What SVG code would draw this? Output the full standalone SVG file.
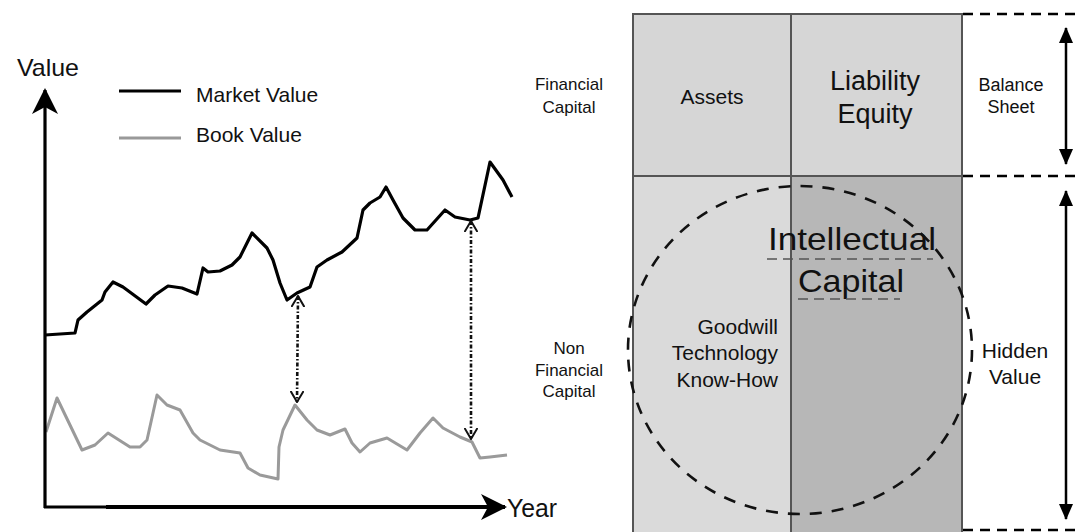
<svg xmlns="http://www.w3.org/2000/svg" width="1083" height="532" viewBox="0 0 1083 532">
<style>
text{font-family:"Liberation Sans",Arial,sans-serif;fill:#111}
.lbl{font-size:17px;text-anchor:middle}
.cell{stroke:#555;stroke-width:2}
.hd{stroke:#000;stroke-width:2.5;stroke-dasharray:10 7;fill:none}
.ul{stroke:#555;stroke-width:1.6;stroke-dasharray:10 6;fill:none}
.dot{stroke:#111;stroke-width:2.6;stroke-dasharray:4 2 1.5 2;fill:none}
</style>
<defs>
<marker id="axisHead" viewBox="0 0 26 26" refX="24" refY="13" markerWidth="26" markerHeight="26" markerUnits="userSpaceOnUse" orient="auto">
<path d="M0,0 L26,13 L0,26 L7,13 z" fill="#000"/>
</marker>
<marker id="solidHead" viewBox="0 0 16 14" refX="15" refY="7" markerWidth="16" markerHeight="14" markerUnits="userSpaceOnUse" orient="auto-start-reverse">
<path d="M0,0 L16,7 L0,14 z" fill="#000"/>
</marker>
<marker id="vHead" viewBox="0 0 12 14" refX="11" refY="7" markerWidth="12" markerHeight="14" markerUnits="userSpaceOnUse" orient="auto-start-reverse">
<path d="M0,0.5 L11,7 L0,13.5" fill="none" stroke="#111" stroke-width="2"/>
</marker>
</defs>
<rect width="1083" height="532" fill="#fff"/>

<g id="chart">
<g id="axis-labels">
<text x="17" y="76" style="font-size:24px" textLength="62" lengthAdjust="spacingAndGlyphs">Value</text>
<text x="507" y="517" style="font-size:25px" textLength="50" lengthAdjust="spacingAndGlyphs">Year</text>
</g>
<g id="legend">
<line x1="119" y1="91" x2="181" y2="91" stroke="#000" stroke-width="3"/>
<text x="196" y="102" style="font-size:21px">Market Value</text>
<line x1="119" y1="138" x2="181" y2="138" stroke="#999" stroke-width="3"/>
<text x="196" y="142" style="font-size:21px">Book Value</text>
</g>
<g id="market-value">
<polyline fill="none" stroke="#000" stroke-width="3.2" stroke-linejoin="round" points="45,335 75,333 78,320 87,312 102,300 105,292 113,282 123,287 146,304 155,295 168,286 182,288 197,294 203,268 208,272 220,271 232,265 240,257 252,233 267,248 273,260 280,283 287,300 297,293 310,287 317,267 327,260 342,252 357,238 363,210 370,203 380,197 386,187 393,200 403,218 415,230 427,230 445,210 455,217 470,220 478,218 490,162 503,180 512,197"/>
</g>
<g id="book-value">
<polyline fill="none" stroke="#9a9a9a" stroke-width="3" stroke-linejoin="round" points="46,432 57,398 82,450 95,445 108,433 130,447 140,447 147,440 157,395 167,405 180,410 193,433 200,440 220,450 240,453 248,468 260,475 278,479 279,447 283,430 295,405 307,420 317,430 330,435 345,429 352,443 360,452 370,443 387,438 407,450 420,433 433,418 443,428 460,437 472,442 480,458 490,457 507,455"/>
</g>
</g>

<g id="cells">
<rect id="assets" class="cell" x="633" y="14" width="158" height="162" fill="#d6d6d6"/>
<rect id="liability-equity" class="cell" x="791" y="14" width="171" height="162" fill="#d6d6d6"/>
<rect id="goodwill" class="cell" x="633" y="176" width="158" height="360" fill="#dadada"/>
<rect id="intangible" class="cell" x="791" y="176" width="171" height="360" fill="#b7b7b7"/>
</g>

<g id="intellectual-capital">
<ellipse cx="800" cy="350" rx="172" ry="164" fill="none" stroke="#111" stroke-width="2.6" stroke-dasharray="12 10"/>
<text x="768" y="250" style="font-size:32px" textLength="168" lengthAdjust="spacingAndGlyphs">Intellectual</text>
<line class="ul" x1="767" y1="259" x2="933" y2="259"/>
<text x="798" y="292" style="font-size:32px" textLength="106" lengthAdjust="spacingAndGlyphs">Capital</text>
<line class="ul" x1="798" y1="299" x2="900" y2="299"/>
</g>

<g id="cell-texts">
<text x="712" y="104" style="font-size:21px" text-anchor="middle">Assets</text>
<text x="875" y="90" style="font-size:27px" text-anchor="middle">Liability</text>
<text x="875" y="123" style="font-size:27px" text-anchor="middle">Equity</text>
<text x="778" y="334" style="font-size:21px" text-anchor="end">Goodwill</text>
<text x="778" y="360" style="font-size:21px" text-anchor="end">Technology</text>
<text x="778" y="387" style="font-size:21px" text-anchor="end">Know-How</text>
</g>

<g id="financial-capital">
<text class="lbl" x="569" y="90">Financial</text>
<text class="lbl" x="569" y="113">Capital</text>
</g>
<g id="non-financial-capital">
<text class="lbl" x="569" y="354">Non</text>
<text class="lbl" x="569" y="376">Financial</text>
<text class="lbl" x="569" y="397">Capital</text>
</g>
<g id="balance-sheet">
<text x="1011" y="91" style="font-size:18px" text-anchor="middle">Balance</text>
<text x="1011" y="113" style="font-size:18px" text-anchor="middle">Sheet</text>
</g>
<g id="hidden-value">
<text x="1015" y="358" style="font-size:21px" text-anchor="middle">Hidden</text>
<text x="1015" y="384" style="font-size:21px" text-anchor="middle">Value</text>
</g>

<g id="connectors">
<line x1="45" y1="508" x2="45" y2="90" stroke="#000" stroke-width="3.2" marker-end="url(#axisHead)"/>
<line x1="44" y1="507" x2="108" y2="507" stroke="#000" stroke-width="3"/>
<line x1="106" y1="507" x2="505" y2="507" stroke="#000" stroke-width="4" marker-end="url(#axisHead)"/>
<line class="dot" x1="298" y1="296" x2="297" y2="402" marker-start="url(#vHead)" marker-end="url(#vHead)"/>
<line class="dot" x1="471" y1="221" x2="471" y2="439" marker-start="url(#vHead)" marker-end="url(#vHead)"/>
<line class="hd" x1="963" y1="14" x2="1081" y2="14"/>
<line class="hd" x1="963" y1="176" x2="1081" y2="176"/>
<line class="hd" x1="963" y1="530" x2="1081" y2="530"/>
<line x1="1066" y1="28" x2="1066" y2="164" stroke="#000" stroke-width="2.5" marker-start="url(#solidHead)" marker-end="url(#solidHead)"/>
<line x1="1066" y1="191" x2="1066" y2="519" stroke="#000" stroke-width="2.5" marker-start="url(#solidHead)" marker-end="url(#solidHead)"/>
</g>
</svg>
